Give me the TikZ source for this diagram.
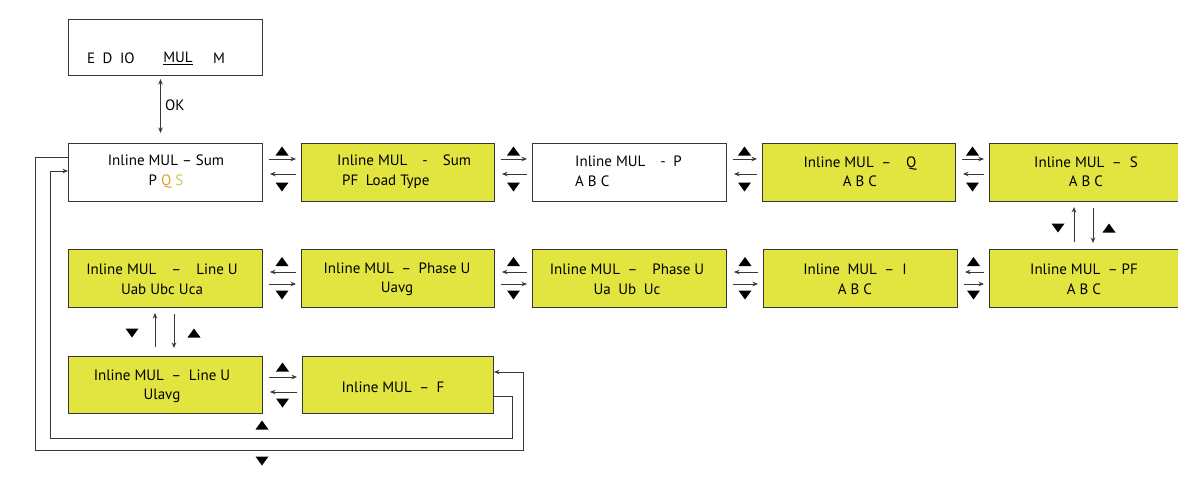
\documentclass[tikz,border=0pt]{standalone}
\usepackage{fontspec}
\setmainfont{PT Sans}
\usetikzlibrary{arrows.meta,calc}
\definecolor{lcd}{RGB}{226,228,64}
\definecolor{qcol}{RGB}{222,160,50}
\definecolor{scol}{RGB}{200,204,80}
\definecolor{edge}{RGB}{55,55,55}
\begin{document}
\begin{tikzpicture}[x=1pt,y=-1pt,
  box/.style={draw=edge, line width=1pt, inner sep=0pt, anchor=north west, minimum height=58pt},
  lcdbox/.style={box, fill=lcd},
  txt/.style={font=\fontsize{15}{19.5}\selectfont, inner sep=0pt, align=center},
  arr/.style={draw=edge, line width=1pt, -{Stealth[length=5.5pt,width=4.5pt]}},
  dbl/.style={draw=edge, line width=1pt, {Stealth[length=5.5pt,width=4.5pt]}-{Stealth[length=5.5pt,width=4.5pt]}},
  triup/.pic={\fill[black] (-6.5,4.5) -- (6.5,4.5) -- (0,-4.5) -- cycle;},
  tridn/.pic={\fill[black] (-6.5,-4.5) -- (6.5,-4.5) -- (0,4.5) -- cycle;}
]
\useasboundingbox (0,0) rectangle (1178,496);
\fill[white] (0,0) rectangle (1178,496);

% boxes
\node[box, minimum width=194pt, minimum height=56pt] (top) at (68,19) {};
\node[box, minimum width=194pt] (b1) at (68,143) {};
\node[lcdbox, minimum width=193pt] (b2) at (301,143) {};
\node[box, minimum width=194pt] (b3) at (532,143) {};
\node[lcdbox, minimum width=193pt] (b4) at (762,143) {};
\node[lcdbox, minimum width=189pt] (b5) at (989,143) {};
\node[lcdbox, minimum width=194pt] (r1) at (68,249) {};
\node[lcdbox, minimum width=193pt] (r2) at (301,249) {};
\node[lcdbox, minimum width=194pt] (r3) at (532,249) {};
\node[lcdbox, minimum width=194pt] (r4) at (763,249) {};
\node[lcdbox, minimum width=189pt] (r5) at (989,249) {};
\node[lcdbox, minimum width=194pt, minimum height=57pt] (u) at (68,356) {};
\node[lcdbox, minimum width=191pt, minimum height=57pt] (f) at (302,356) {};

% texts
\node[txt, anchor=west] (t0a) at (87,58) {E\enspace D\enspace IO};
\node[txt] (t0b) at (178,58) {\underline{MUL}};
\node[txt] (t0c) at (219,58) {M};
\node[txt] (t1) at (166,171.5) {Inline MUL -- Sum\\P {\color{qcol}Q} {\color{scol}S}};
\node[txt, anchor=west, align=left] (t2) at (337,171.5) {Inline MUL\quad -\quad Sum\\\hspace*{5pt}PF\enspace Load Type};
\node[txt, anchor=west, align=left] (t3) at (575,171.5) {Inline MUL\quad -\enspace P\\A B C};
\node[txt] (t4) at (860,171.5) {Inline MUL\enspace --\quad Q\\A B C};
\node[txt] (t5) at (1086,171.5) {Inline MUL\enspace -- \ S\\A B C};
\node[txt] (s1) at (162,279.5) {Inline MUL\quad --\quad Line U\\Uab Ubc Uca};
\node[txt] (s2) at (397,279.5) {Inline MUL\enspace --\enspace Phase U\\Uavg};
\node[txt] (s3) at (627,279.5) {Inline MUL\enspace --\quad Phase U\\Ua\enspace Ub\enspace Uc};
\node[txt] (s4) at (855,279.5) {Inline\enspace MUL\enspace -- \ I\\A B C};
\node[txt] (s5) at (1084,279.5) {Inline MUL\enspace -- PF\\A B C};
\node[txt] (v1) at (162,386.5) {Inline MUL\enspace --\enspace Line U\\Ulavg};
\node[txt] (v2) at (393,387) {Inline MUL\enspace --\enspace F};

% OK arrow
\draw[dbl] ($(top.south)+(-5,3)$) -- ($(b1.north)+(-5,-10)$);
\node[txt, anchor=west] (ok) at (165,105) {OK};

% row 1 connectors
\foreach \a/\b in {b1/b2,b2/b3,b3/b4,b4/b5}{
  \draw[arr] ($(\a.north east)+(6,16)$) -- ($(\b.north west)+(-5,16)$);
  \draw[arr] ($(\b.north west)+(-5,31)$) -- ($(\a.north east)+(7,31)$);
  \pic at ($(\a.north east)!0.5!(\b.north west)+(0,8)$) {triup};
  \pic at ($(\a.north east)!0.5!(\b.north west)+(0,44)$) {tridn};
}
% row 2 connectors
\foreach \a/\b in {r1/r2,r2/r3,r3/r4,r4/r5}{
  \draw[arr] ($(\b.north west)+(-5,23)$) -- ($(\a.north east)+(7,23)$);
  \draw[arr] ($(\a.north east)+(6,35)$) -- ($(\b.north west)+(-5,35)$);
  \pic at ($(\a.north east)!0.5!(\b.north west)+(0,12.5)$) {triup};
  \pic at ($(\a.north east)!0.5!(\b.north west)+(0,46)$) {tridn};
}
% row 3 connectors
\draw[arr] ($(u.north east)+(6,21)$) -- ($(f.north west)+(-5,21)$);
\draw[arr] ($(f.north west)+(-5,36)$) -- ($(u.north east)+(7,36)$);
\pic at ($(u.north east)!0.5!(f.north west)+(0,11)$) {triup};
\pic at ($(u.north east)!0.5!(f.north west)+(0,47)$) {tridn};

% S <-> PF
\draw[arr] ($(b5.south west)+(85,40)$) -- ($(b5.south west)+(85,5)$);
\draw[arr] ($(b5.south west)+(104,6)$) -- ($(b5.south west)+(104,41)$);
\pic at ($(b5.south west)+(69,26)$) {tridn};
\pic at ($(b5.south west)+(120,26)$) {triup};

% Line U <-> Ulavg
\draw[arr] ($(r1.south west)+(87,39)$) -- ($(r1.south west)+(87,5)$);
\draw[arr] ($(r1.south west)+(106,6)$) -- ($(r1.south west)+(106,40)$);
\pic at ($(r1.south west)+(64,25)$) {tridn};
\pic at ($(r1.south west)+(126,25)$) {triup};

% loops
\coordinate (o1) at (35,157);
\coordinate (o2) at (35,450);
\coordinate (o3) at (523,450);
\coordinate (o4) at (523,372);
\coordinate (i1) at (512,396);
\coordinate (i2) at (512,438);
\coordinate (i3) at (50,438);
\coordinate (i4) at (50,171);
\draw[arr] ($(b1.north west)+(0,14)$) -- (o1) -- (o2) -- (o3) -- (o4) -- ($(f.north east)+(0,16)$);
\draw[arr] ($(f.north east)+(0,40)$) -- (i1) -- (i2) -- (i3) -- (i4) -- ($(b1.north west)+(0,28)$);
\pic at (262,425) {triup};
\pic at (262,461) {tridn};
\end{tikzpicture}
\end{document}
